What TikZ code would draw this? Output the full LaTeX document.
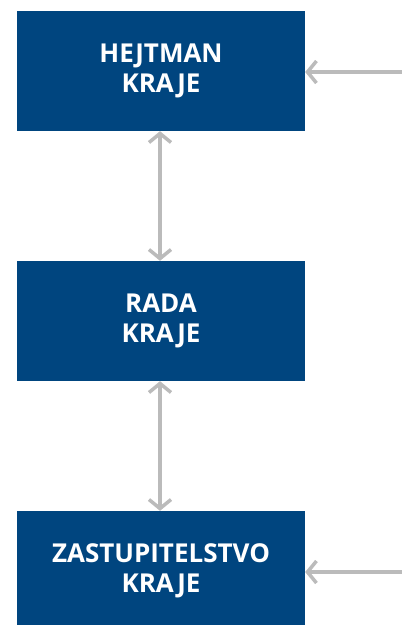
\documentclass[tikz,border=0pt]{standalone}
\usepackage{fontspec}
\setmainfont{Open Sans}
\usetikzlibrary{arrows.meta}
\definecolor{kraj-blue}{HTML}{00457F}
\definecolor{link-gray}{HTML}{BBBBBB}
\tikzset{
  organ/.style={fill=kraj-blue, text=white, minimum width=288pt, minimum height=120pt,
    inner sep=0pt, align=center, font=\bfseries\fontsize{26}{30}\selectfont},
  link/.style={link-gray, line width=3.5pt, {Straight Barb[length=9pt,width=22pt,line width=3.5pt]}-{Straight Barb[length=9pt,width=22pt,line width=3.5pt]}},
  feed/.style={link-gray, line width=3.5pt, {Straight Barb[length=9pt,width=22pt,line width=3.5pt]}-}
}

\begin{document}
\begin{tikzpicture}[x=1pt,y=-1pt]%Organy kraje
\useasboundingbox (0,0) rectangle (402,625);
\clip (0,0) rectangle (402,625);
  \node [organ] (hejtman) at (161,71) {HEJTMAN\\KRAJE};
  \node [organ] (rada) at (161,321) {RADA\\KRAJE};
  \node [organ] (zastup) at (161,571) {ZASTUPITELSTVO\\KRAJE};
  \coordinate (vstupH) at (402,72);
  \coordinate (vstupZ) at (402,572);
  \draw [link] (hejtman.south -| 160,0) -- (rada.north -| 160,0);
  \draw [link] (rada.south -| 160,0) -- (zastup.north -| 160,0);
  \draw [feed] (hejtman.east |- vstupH) -- (vstupH);
  \draw [feed] (zastup.east |- vstupZ) -- (vstupZ);
\end{tikzpicture}
\end{document}
